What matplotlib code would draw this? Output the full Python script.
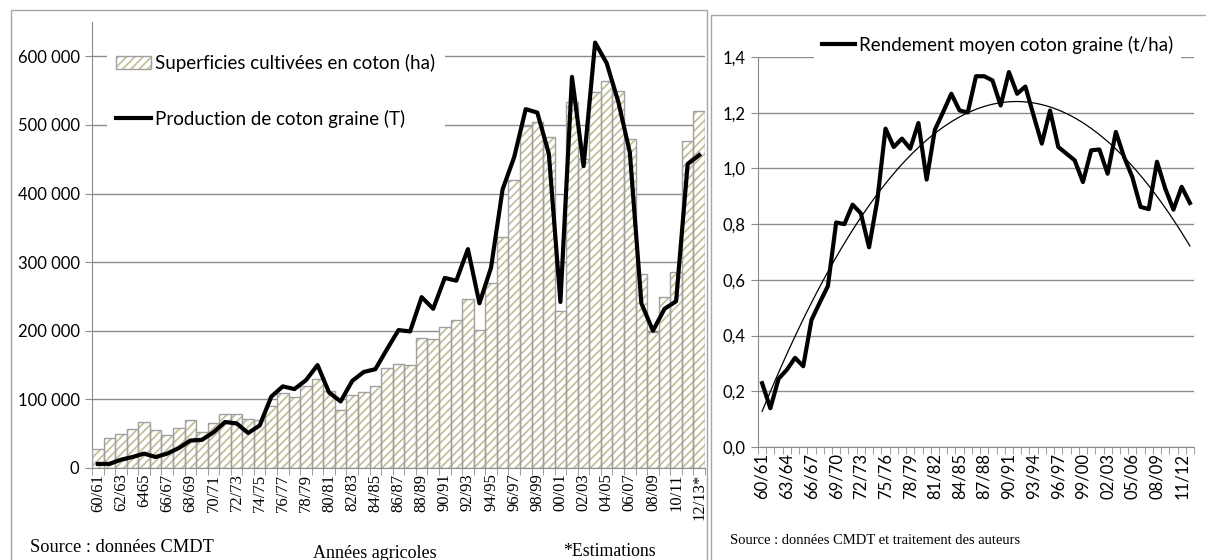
import numpy as np
import matplotlib
matplotlib.use('Agg')
import matplotlib.pyplot as plt
from matplotlib.ticker import FuncFormatter
from matplotlib.patches import Rectangle, Patch
from matplotlib.lines import Line2D

# campagnes agricoles (graphique de gauche, étiquettes telles qu'imprimées)
campagnes_g = ['60/61', '61/62', '62/63', '63/64', '6465', '65/66', '66/67', '67/68',
               '68/69', '69/70', '70/71', '71/72', '72/73', '73/74', '74/75', '75/76',
               '76/77', '77/78', '78/79', '79/80', '80/81', '81/82', '82/83', '83/84',
               '84/85', '85/86', '86/87', '87/88', '88/89', '89/90', '90/91', '91/92',
               '92/93', '93/94', '94/95', '95/96', '96/97', '97/98', '98/99', '99/00',
               '00/01', '01/02', '02/03', '03/04', '04/05', '05/06', '06/07', '07/08',
               '08/09', '09/10', '10/11', '11/12', '12/13*']
campagnes_d = ['60/61', '61/62', '62/63', '63/64', '64/65', '65/66', '66/67', '67/68',
               '68/69', '69/70', '70/71', '71/72', '72/73', '73/74', '74/75', '75/76',
               '76/77', '77/78', '78/79', '79/80', '80/81', '81/82', '82/83', '83/84',
               '84/85', '85/86', '86/87', '87/88', '88/89', '89/90', '90/91', '91/92',
               '92/93', '93/94', '94/95', '95/96', '96/97', '97/98', '98/99', '99/00',
               '00/01', '01/02', '02/03', '03/04', '04/05', '05/06', '06/07', '07/08',
               '08/09', '09/10', '10/11', '11/12', '12/13']

# superficies (milliers d'ha) et production (milliers de t)
superficies = [28, 43, 50, 57, 67, 56, 48, 58, 70, 52, 66, 78, 79, 71, 70, 91,
               110, 104, 119, 130, 112, 85, 106, 111, 120, 146, 152, 150, 190, 188,
               205, 215, 247, 201, 270, 336, 420, 499, 504, 482, 229, 534, 450, 548,
               564, 549, 480, 283, 198, 249, 285, 477, 520]
production = [6, 6, 12, 16, 21, 16, 21, 29, 40, 41, 52, 67, 65, 51, 62, 104,
              119, 115, 128, 150, 110, 97, 127, 140, 144, 173, 201, 199, 249, 232,
              277, 273, 319, 240, 292, 406, 453, 523, 518, 458, 242, 570, 440, 620,
              590, 534, 460, 240, 200, 232, 243, 443, 456]
# rendement (t/ha)
rendement = [0.229, 0.139, 0.245, 0.277, 0.320, 0.290, 0.456, 0.518, 0.578, 0.806,
             0.800, 0.870, 0.839, 0.717, 0.885, 1.143, 1.077, 1.107, 1.071, 1.163,
             0.960, 1.139, 1.202, 1.268, 1.208, 1.201, 1.331, 1.331, 1.316, 1.226,
             1.346, 1.268, 1.294, 1.190, 1.089, 1.208, 1.077, 1.053, 1.029, 0.951,
             1.065, 1.068, 0.981, 1.131, 1.041, 0.969, 0.862, 0.854, 1.024, 0.928,
             0.852, 0.934, 0.876]

SANS = 'Lato'
SERIF = 'Liberation Serif'
GRID = '#8c8c8c'
HATCH = '#c6bf98'
HATCH_PAT = '////'
EDGE = '#a0a0a0'
W, H = 1206, 560

plt.rcParams['font.family'] = [SANS, 'DejaVu Sans']
plt.rcParams['hatch.linewidth'] = 1.3


def fx(px):
    return px / W


def fy(py):
    return 1 - py / H


fig = plt.figure(figsize=(W / 100, H / 100), dpi=100)

# cadres des deux graphiques
fig.patches.append(Rectangle((fx(11), fy(575)), fx(707) - fx(11), fy(10) - fy(575),
                             transform=fig.transFigure, fill=False, edgecolor='#a6a6a6', lw=1))
fig.patches.append(Rectangle((fx(711), fy(575)), fx(1220) - fx(711), fy(15) - fy(575),
                             transform=fig.transFigure, fill=False, edgecolor='#a6a6a6', lw=1))


def style_axes(ax):
    for s in ['top', 'right']:
        ax.spines[s].set_visible(False)
    for s in ['left', 'bottom']:
        ax.spines[s].set_color(GRID)
    ax.yaxis.grid(True, color=GRID, lw=1)
    ax.set_axisbelow(True)
    ax.tick_params(axis='y', length=5, color=GRID, labelsize=12, pad=4)
    ax.tick_params(axis='x', which='major', length=0, pad=4)
    ax.tick_params(axis='x', which='minor', length=5, color=GRID)


# ---- graphique de gauche
x = np.arange(len(campagnes_g))
sup = np.array(superficies) * 1000
prod = np.array(production) * 1000

ax1 = fig.add_axes([fx(92), fy(468), fx(705) - fx(92), fy(22) - fy(468)])
ax1.bar(x, sup, width=1.0, color='white', edgecolor=HATCH, hatch=HATCH_PAT, lw=0, zorder=2)
ax1.bar(x, sup, width=1.0, fill=False, edgecolor=EDGE, lw=1, zorder=3)
ax1.plot(x, prod, color='black', lw=3, zorder=4)
ax1.set_xlim(-0.5, len(x) - 0.5)
ax1.set_ylim(0, 650000)
ax1.set_yticks(np.arange(0, 600001, 100000))
ax1.yaxis.set_major_formatter(FuncFormatter(lambda v, p: f"{int(v):,}".replace(',', ' ')))
style_axes(ax1)
ax1.set_xticks(x[::2])
ax1.set_xticklabels(campagnes_g[::2], rotation=90, fontsize=12, family=SERIF)
ax1.set_xticks(np.arange(-0.5, len(x), 1), minor=True)

h_bar = (Patch(facecolor='white', edgecolor=HATCH, hatch=HATCH_PAT, lw=0),
         Patch(fill=False, edgecolor=EDGE, lw=1))
h_line = Line2D([], [], color='black', lw=3)
leg1 = ax1.legend([h_bar, h_line],
                  ['Superficies cultivées en coton (ha)', 'Production de coton graine (T)'],
                  loc='upper left', bbox_to_anchor=(fx(107), fy(45)), bbox_transform=fig.transFigure,
                  fontsize=13.5, labelspacing=2.0, handlelength=1.87, handletextpad=0.2,
                  borderpad=0.5, borderaxespad=0, frameon=True, fancybox=False, framealpha=1)
leg1.get_frame().set_edgecolor('none')
leg1.set_zorder(6)

fig.text(fx(30), fy(547), 'Source : données CMDT', family=SERIF, fontsize=13.2, va='center')
fig.text(fx(313), fy(553), 'Années agricoles', family=SERIF, fontsize=13, va='center')
fig.text(fx(563), fy(551), '*Estimations', family=SERIF, fontsize=12.8, va='center')

# ---- graphique de droite
xr = np.arange(len(campagnes_d))
ax2 = fig.add_axes([fx(758), fy(447), fx(1194) - fx(758), fy(57) - fy(447)])
ax2.plot(xr, rendement, color='black', lw=3, zorder=4)
coef = np.polyfit(xr, rendement, 2)
xs = np.linspace(xr[0], xr[-1], 200)
ax2.plot(xs, np.polyval(coef, xs), color='black', lw=0.9, zorder=5)
ax2.set_xlim(-0.5, len(xr) - 0.5)
ax2.set_ylim(0, 1.4)
ax2.set_yticks(np.arange(0, 1.41, 0.2))
ax2.yaxis.set_major_formatter(FuncFormatter(lambda v, p: f"{v:.1f}".replace('.', ',')))
style_axes(ax2)
ax2.set_xticks(xr[::3])
ax2.set_xticklabels(campagnes_d[::3], rotation=90, fontsize=12)
ax2.set_xticks(np.arange(-0.5, len(xr), 1), minor=True)

leg2 = ax2.legend([Line2D([], [], color='black', lw=3)], ['Rendement moyen coton graine (t/ha)'],
                  loc='center left', bbox_to_anchor=(fx(814), fy(45)), bbox_transform=fig.transFigure,
                  fontsize=13.5, handlelength=1.8, handletextpad=0.2, borderpad=0.4,
                  borderaxespad=0, frameon=True, fancybox=False, framealpha=1)
leg2.get_frame().set_edgecolor('none')
leg2.set_zorder(6)

fig.text(fx(730), fy(541), 'Source : données CMDT et traitement des auteurs',
         family=SERIF, fontsize=10.5, va='center')

fig.savefig('out.png', dpi=100)
